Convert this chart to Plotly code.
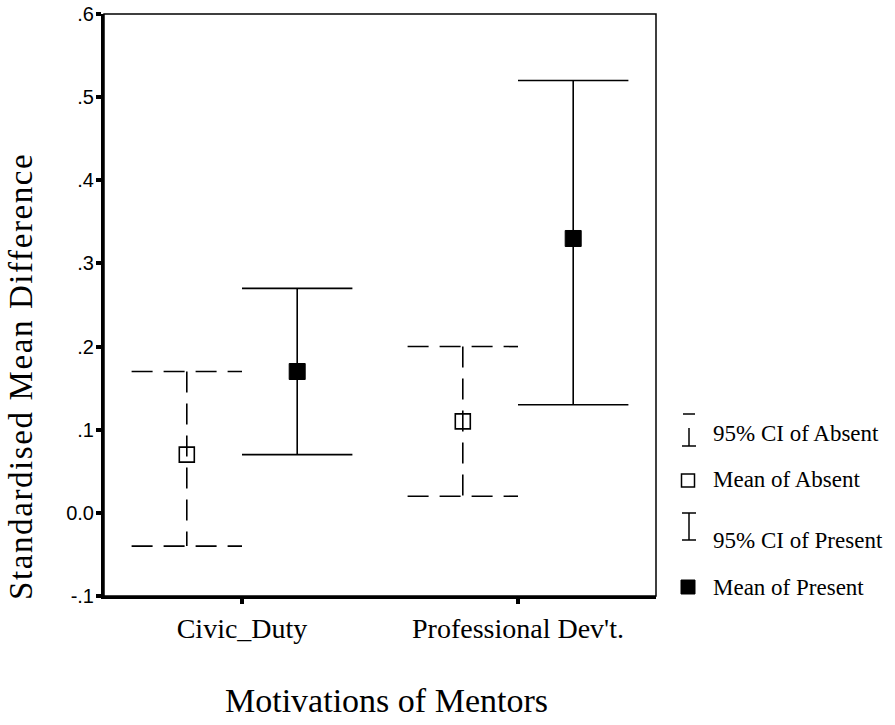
import plotly.graph_objects as go

# ---- data ----
categories = ["Civic_Duty", "Professional Dev't."]
absent_mean = [0.07, 0.11]
absent_lower = [-0.04, 0.02]
absent_upper = [0.17, 0.20]
present_mean = [0.17, 0.33]
present_lower = [0.07, 0.13]
present_upper = [0.27, 0.52]
y_tickvals = [-0.1, 0.0, 0.1, 0.2, 0.3, 0.4, 0.5, 0.6]
y_ticktext = ["-.1", "0.0", ".1", ".2", ".3", ".4", ".5", ".6"]
legend_labels = ["95% CI of Absent", "Mean of Absent", "95% CI of Present", "Mean of Present"]

W, H = 895, 725
L, R, T, B = 104, 239, 14, 129
PW, PH = W - L - R, H - T - B

SERIF = "Liberation Serif, Times New Roman, serif"
SANS = "Liberation Sans, Arial, sans-serif"

OFF = 0.2   # group offset
CAP = 0.2   # cap half width


def ci_path(lower, upper, off):
    xs, ys = [], []
    for i, (lo, up) in enumerate(zip(lower, upper)):
        x = i + off
        xs += [x - CAP, x + CAP, None, x, x, None, x - CAP, x + CAP, None]
        ys += [up, up, None, up, lo, None, lo, lo, None]
    return xs, ys


fig = go.Figure()

xa, ya = ci_path(absent_lower, absent_upper, -OFF)
fig.add_trace(go.Scatter(x=xa, y=ya, mode="lines", connectgaps=False,
                         line=dict(color="black", width=1.6, dash="21px,11px"),
                         hoverinfo="skip", showlegend=False))
xp, yp = ci_path(present_lower, present_upper, OFF)
fig.add_trace(go.Scatter(x=xp, y=yp, mode="lines", connectgaps=False,
                         line=dict(color="black", width=1.6),
                         hoverinfo="skip", showlegend=False))
fig.add_trace(go.Scatter(x=[i - OFF for i in range(len(categories))], y=absent_mean,
                         mode="markers", showlegend=False,
                         marker=dict(symbol="square-open", size=15, color="black",
                                     line=dict(width=1.6, color="black"))))
fig.add_trace(go.Scatter(x=[i + OFF for i in range(len(categories))], y=present_mean,
                         mode="markers", showlegend=False,
                         marker=dict(symbol="square", size=16, color="black",
                                     line=dict(width=1, color="black"))))


def px(x):
    return (x - L) / PW


def py(y):
    return (H - B - y) / PH


shapes = []
# frame top/right (thin)
shapes.append(dict(type="rect", xref="paper", yref="paper", x0=0, x1=1, y0=0, y1=1,
                   line=dict(color="black", width=1.5), layer="below"))


def seg(x0, y0, x1, y1, w=1.5):
    shapes.append(dict(type="line", xref="paper", yref="paper",
                       x0=px(x0), y0=py(y0), x1=px(x1), y1=py(y1),
                       line=dict(color="black", width=w)))


# legend glyphs
seg(683, 414, 695, 414)
seg(689, 428, 689, 446)
seg(682, 446, 696, 446)
shapes.append(dict(type="rect", xref="paper", yref="paper",
                   x0=px(681.5), x1=px(694.5), y0=py(487), y1=py(474),
                   line=dict(color="black", width=1.5)))
seg(682, 513, 696, 513)
seg(689, 513, 689, 540)
seg(682, 540, 696, 540)
shapes.append(dict(type="rect", xref="paper", yref="paper",
                   x0=px(681), x1=px(695), y0=py(594), y1=py(580),
                   line=dict(color="black", width=1), fillcolor="black"))

annotations = []
for lab, yc in zip(legend_labels, [433, 479, 540, 587]):
    annotations.append(dict(text=lab, xref="paper", yref="paper", x=px(711), y=py(yc),
                            xanchor="left", yanchor="middle", showarrow=False,
                            font=dict(family=SERIF, size=23, color="black")))

annotations.append(dict(text='<span style="letter-spacing:1.6px">Standardised Mean Difference</span>',
                        xref="paper", yref="paper", x=px(21), y=py(377),
                        xanchor="center", yanchor="middle", textangle=-90, showarrow=False,
                        font=dict(family=SERIF, size=33, color="black")))
annotations.append(dict(text="Motivations of Mentors", xref="paper", yref="paper",
                        x=px(386), y=py(700), xanchor="center", yanchor="middle",
                        showarrow=False, font=dict(family=SERIF, size=34, color="black")))

fig.update_layout(
    width=W, height=H,
    margin=dict(l=L, r=R, t=T, b=B, pad=0, autoexpand=False),
    paper_bgcolor="white", plot_bgcolor="white",
    showlegend=False,
    shapes=shapes, annotations=annotations,
    xaxis=dict(range=[-0.5, 1.5], tickvals=list(range(len(categories))), ticktext=categories,
               automargin=False,
               showgrid=False, zeroline=False, showline=True, linecolor="black", linewidth=3,
               ticks="outside", ticklen=5, tickwidth=4, tickcolor="black",
               tickfont=dict(family=SERIF, size=28, color="black"), fixedrange=True),
    yaxis=dict(range=[-0.1, 0.6], tickvals=y_tickvals, ticktext=y_ticktext,
               automargin=False, ticklabelstandoff=-2,
               showgrid=False, zeroline=False, showline=True, linecolor="black", linewidth=3,
               ticks="outside", ticklen=5, tickwidth=4, tickcolor="black",
               tickfont=dict(family=SANS, size=20, color="black"), fixedrange=True),
)

fig.write_html("out.html")
